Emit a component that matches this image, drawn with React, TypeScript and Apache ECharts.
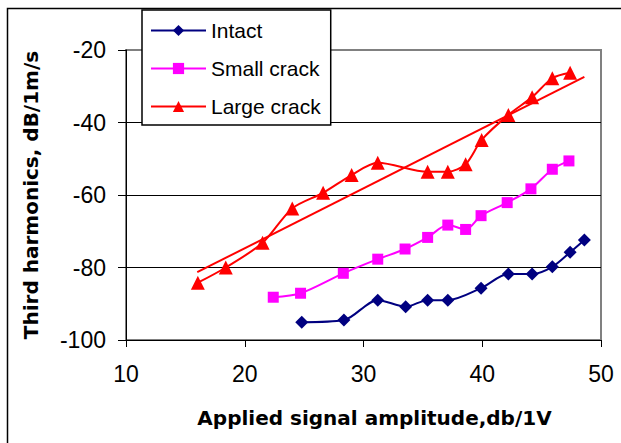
import { useEffect, useRef } from "react";
import * as echarts from "echarts";

const intactX = [24.8, 28.35, 31.2, 33.55, 35.4, 37.1, 39.9, 42.2, 44.2, 45.9, 47.4, 48.6];
const intactY = [-95.1, -94.5, -89.0, -90.8, -89.0, -89.0, -85.7, -81.8, -81.8, -79.8, -75.8, -72.4];

const smallX = [22.4, 24.7, 28.3, 31.2, 33.5, 35.4, 37.1, 38.6, 39.9, 42.1, 44.1, 45.9, 47.3];
const smallY = [-88.2, -87.1, -81.6, -77.7, -74.9, -71.7, -68.3, -69.5, -65.7, -62.1, -58.3, -52.9, -50.6];

const largeX = [16.05, 18.4, 21.5, 24.0, 26.6, 29.0, 31.2, 35.4, 37.1, 38.6, 39.95, 42.2, 44.2, 45.9, 47.4];
const largeY = [-84.2, -80.0, -73.2, -63.7, -59.4, -54.5, -51.1, -53.6, -53.6, -51.5, -44.8, -37.9, -33.0, -27.8, -26.3];

const trendX = [16.0, 48.6];
const trendY = [-81.3, -27.4];

const seriesNames = ["Intact", "Small crack", "Large crack"];
const xTitle = "Applied signal amplitude,db/1V";
const yTitle = "Third harmonics, dB/1m/s";

const zip = (xs: number[], ys: number[]) => xs.map((x, i) => [x, ys[i]]);

export default function App() {
  const ref = useRef<HTMLDivElement>(null);
  useEffect(() => {
    if (!ref.current) return;
    const chart = echarts.init(ref.current, undefined, { renderer: "svg" });
    const tickFont = "'Liberation Sans', Arial, sans-serif";
    const titleFont = "'DejaVu Sans', sans-serif";
    chart.setOption({
      animation: false,
      backgroundColor: "#fff",
      grid: {
        left: 126,
        top: 50,
        right: 20,
        bottom: 103,
        show: true,
        borderColor: "#808080",
        borderWidth: 2,
        backgroundColor: "transparent",
      },
      legend: {
        data: seriesNames,
        orient: "vertical",
        left: 142,
        top: 10,
        itemWidth: 55,
        itemHeight: 14,
        itemGap: 17,
        padding: [10, 10, 8, 8],
        borderColor: "#000",
        borderWidth: 1.5,
        backgroundColor: "#fff",
        z: 10,
        textStyle: { fontFamily: tickFont, fontSize: 21, color: "#000", lineHeight: 20 },
      },
      xAxis: {
        type: "value",
        min: 10,
        max: 50,
        interval: 10,
        axisLine: { show: true, onZero: false, lineStyle: { color: "#000", width: 1 } },
        axisTick: { show: true, length: 7, lineStyle: { color: "#000" } },
        axisLabel: { fontFamily: tickFont, fontSize: 23, color: "#000", margin: 22 },
        splitLine: { show: false },
        name: xTitle,
        nameLocation: "middle",
        nameGap: 68,
        nameTextStyle: {
          fontFamily: titleFont,
          fontWeight: "bold",
          fontSize: 20,
          color: "#000",
          padding: [0, 0, 0, 22],
        },
      },
      yAxis: {
        type: "value",
        min: -100,
        max: -20,
        interval: 20,
        axisLine: { show: true, onZero: false, lineStyle: { color: "#000", width: 1 } },
        axisTick: { show: true, length: 8, lineStyle: { color: "#000" } },
        axisLabel: { fontFamily: tickFont, fontSize: 23, color: "#000", margin: 20 },
        splitLine: {
          show: true,
          showMinLine: false,
          showMaxLine: false,
          lineStyle: { color: "#000", width: 1 },
        },
        name: yTitle,
        nameLocation: "middle",
        nameGap: 85,
        nameRotate: 90,
        nameTextStyle: { fontFamily: titleFont, fontWeight: "bold", fontSize: 20, color: "#000" },
      },
      graphic: [
        {
          type: "rect",
          shape: { x: 7.5, y: 8.5, width: 700, height: 500 },
          style: { fill: "none", stroke: "#000", lineWidth: 1.5 },
          z: 100,
          silent: true,
        },
      ],
      series: [
        {
          name: "trend",
          type: "line",
          data: zip(trendX, trendY),
          symbol: "none",
          lineStyle: { color: "#FF0000", width: 2 },
          silent: true,
          z: 1,
        },
        {
          name: seriesNames[0],
          type: "line",
          data: zip(intactX, intactY),
          smooth: 0.3,
          symbol: "diamond",
          symbolSize: 13,
          color: "#000080",
          itemStyle: { color: "#000080" },
          lineStyle: { color: "#000080", width: 2 },
          z: 3,
        },
        {
          name: seriesNames[1],
          type: "line",
          data: zip(smallX, smallY),
          smooth: 0.3,
          symbol: "rect",
          symbolSize: 11,
          color: "#FF00FF",
          itemStyle: { color: "#FF00FF" },
          lineStyle: { color: "#FF00FF", width: 2 },
          z: 3,
        },
        {
          name: seriesNames[2],
          type: "line",
          data: zip(largeX, largeY),
          smooth: 0.3,
          symbol: "triangle",
          symbolSize: 14,
          color: "#FF0000",
          itemStyle: { color: "#FF0000" },
          lineStyle: { color: "#FF0000", width: 2 },
          z: 3,
        },
      ],
    });
    return () => chart.dispose();
  }, []);
  return (
    <div
      ref={ref}
      style={{ position: "absolute", left: 0, top: 0, width: 621, height: 443 }}
    />
  );
}
